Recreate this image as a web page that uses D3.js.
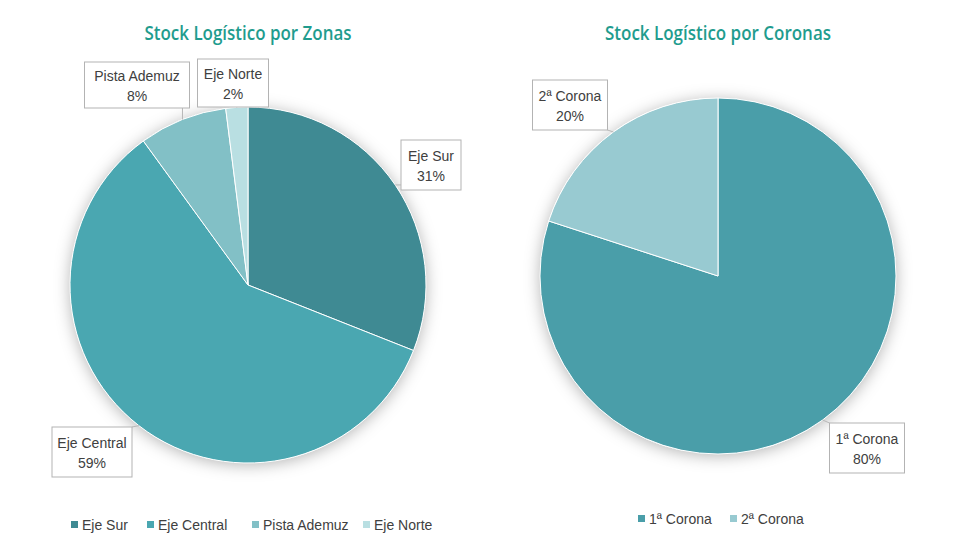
<!DOCTYPE html>
<html><head><meta charset="utf-8">
<script src="https://cdn.jsdelivr.net/npm/d3@7"></script>
<style>body{margin:0;background:#fff}svg{display:block}</style>
</head><body><svg id="c" width="980" height="560"></svg>
<script>
// ---- data ----
const zonasTitle = "Stock Logístico por Zonas";
const zonasCats = ["Eje Sur", "Eje Central", "Pista Ademuz", "Eje Norte"];
const zonasVals = [31, 59, 8, 2];
const coronasTitle = "Stock Logístico por Coronas";
const coronasCats = ["1ª Corona", "2ª Corona"];
const coronasVals = [80, 20];

// ---- styling / layout ----
const zonasColors = ["#3f8a93", "#4aa7b1", "#82c0c6", "#b9dfe2"];
const coronasColors = ["#4a9ea9", "#98cad1"];
const FONT = "'Liberation Sans', sans-serif";
const TFONT = "'Open Sans', sans-serif";
const svg = d3.select("#c");
const defs = svg.append("defs");
const f = defs.append("filter").attr("id","sh").attr("x","-20%").attr("y","-20%").attr("width","140%").attr("height","140%");
f.append("feDropShadow").attr("dx",0).attr("dy",2).attr("stdDeviation",8).attr("flood-color","#000").attr("flood-opacity",0.3);

function drawPie(cfg){
  const g = svg.append("g");
  g.append("text").attr("x", cfg.cx).attr("y", cfg.titleY).attr("text-anchor","middle")
    .attr("font-family", TFONT).attr("font-size", 19).attr("font-weight", 600)
    .attr("textLength", cfg.titleW).attr("lengthAdjust", "spacingAndGlyphs")
    .attr("fill", "#1f9c8e").text(cfg.title);
  const pie = d3.pie().sort(null).value(d => d.v);
  const data = pie(cfg.cats.map((c,i)=>({c, v: cfg.vals[i], i})));
  const arc = d3.arc().innerRadius(0).outerRadius(cfg.r);
  const color = d3.scaleOrdinal().domain(cfg.cats).range(cfg.colors);
  const pg = g.append("g").attr("transform", `translate(${cfg.cx},${cfg.cy})`);
  pg.append("circle").attr("r", cfg.r).attr("fill", "#fff").attr("filter","url(#sh)");
  pg.selectAll("path").data(data).join("path")
    .attr("d", arc).attr("fill", d => color(d.data.c))
    .attr("stroke", "#fff").attr("stroke-width", 1);
  // labels
  data.forEach((d, i) => {
    const b = cfg.boxes[i];
    const mid = (d.startAngle + d.endAngle) / 2;
    const px = cfg.cx + cfg.r * Math.sin(mid), py = cfg.cy - cfg.r * Math.cos(mid);
    const x0 = b.x - b.w/2, y0 = b.y - b.h/2;
    const qx = Math.max(x0, Math.min(x0 + b.w, px)), qy = Math.max(y0, Math.min(y0 + b.h, py));
    g.append("line").attr("x1", px).attr("y1", py).attr("x2", qx).attr("y2", qy)
      .attr("stroke", "#b8b8b8").attr("stroke-width", 1);
    g.append("rect").attr("x", x0).attr("y", y0).attr("width", b.w).attr("height", b.h)
      .attr("fill", "#fff").attr("stroke", "#b3b3b3").attr("stroke-width", 1);
    const t = g.append("text").attr("text-anchor","middle").attr("font-family", FONT)
      .attr("font-size", 14).attr("fill", "#404040");
    t.append("tspan").attr("x", b.x).attr("y", b.y - 4).text(d.data.c);
    t.append("tspan").attr("x", b.x).attr("y", b.y + 16).text(d.data.v + "%");
  });
  // legend
  const lg = g.append("g");
  cfg.cats.forEach((c, i) => {
    const lx = cfg.legendX[i];
    lg.append("rect").attr("x", lx).attr("y", cfg.legendY - 4).attr("width", 7).attr("height", 7)
      .attr("fill", color(c));
    lg.append("text").attr("x", lx + 11).attr("y", cfg.legendY + 5).attr("font-family", FONT)
      .attr("font-size", 14).attr("fill", "#404040").text(c);
  });
}

drawPie({
  title: zonasTitle, cats: zonasCats, vals: zonasVals, colors: zonasColors,
  cx: 248, cy: 285, r: 178, titleY: 40, titleW: 207,
  boxes: [
    {x: 431, y: 165, w: 60, h: 50},
    {x: 92, y: 452, w: 80, h: 50},
    {x: 137, y: 85, w: 105, h: 46},
    {x: 233, y: 83, w: 71, h: 48}
  ],
  legendX: [71, 147, 252, 363], legendY: 525
});
drawPie({
  title: coronasTitle, cats: coronasCats, vals: coronasVals, colors: coronasColors,
  cx: 718, cy: 276, r: 178, titleY: 40, titleW: 226,
  boxes: [
    {x: 867, y: 448, w: 75, h: 50},
    {x: 570, y: 105, w: 75, h: 50}
  ],
  legendX: [638, 730], legendY: 519
});
</script></body></html>
